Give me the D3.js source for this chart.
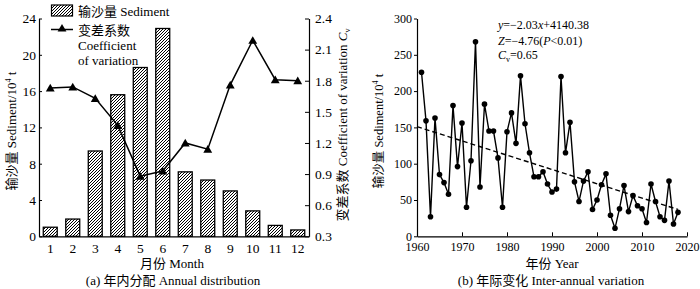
<!DOCTYPE html>
<html>
<head>
<meta charset="utf-8">
<script src="https://cdn.jsdelivr.net/npm/d3@7"></script>
<style>
  body { margin: 0; background: #fff; }
  svg text { font-family: "Liberation Serif", "Noto Sans CJK SC", serif; fill: #000; }
  .domain { stroke: #000; stroke-width: 1.2; }
  .tick line { stroke: #000; }
</style>
</head>
<body>
<svg id="chart" width="700" height="289"></svg>
<script>
// (a) monthly sediment and coefficient of variation
var months = [1, 2, 3, 4, 5, 6, 7, 8, 9, 10, 11, 12];
var sediment = [1.0, 1.9, 9.4, 15.6, 18.6, 22.9, 7.1, 6.2, 5.0, 2.8, 1.2, 0.7];
var cv = [1.73, 1.74, 1.63, 1.37, 0.88, 0.93, 1.20, 1.14, 1.76, 2.19, 1.81, 1.80];
var leftTicks = [0, 4, 8, 12, 16, 20, 24];
var cvTicks = [0.3, 0.6, 0.9, 1.2, 1.5, 1.8, 2.1, 2.4];

// (b) yearly sediment 1961-2018
var years = d3.range(1961, 2019);
var yearly = [226, 159, 27, 163, 85, 74, 58, 180, 96, 156,
              40, 104, 268, 68, 182, 145, 145, 108, 40, 144,
              170, 128, 221, 155, 115, 82, 82, 89, 72, 61,
              65, 220, 115, 157, 75, 48, 76, 89, 37, 50,
              71, 86, 29, 11, 38, 70, 34, 56, 42, 38,
              19, 72, 48, 27, 22, 76, 17, 33];
var trendYears = [1960, 2018];
var trendValues = [151, 37];
var yearTicks = [1960, 1970, 1980, 1990, 2000, 2010, 2020];
var rightTicks = [0, 50, 100, 150, 200, 250, 300];

var svg = d3.select("#chart");

// hatch pattern for the bars
var defs = svg.append("defs");
defs.append("pattern")
    .attr("id", "hatch")
    .attr("patternUnits", "userSpaceOnUse")
    .attr("width", 3).attr("height", 3)
    .append("path")
    .attr("d", "M-1,1 L1,-1 M0,3 L3,0 M2,4 L4,2")
    .attr("stroke", "#000")
    .attr("stroke-width", 1);

// ---------- panel (a) ----------
var plotTop = 18.5, plotBottom = 236.3;
var x = d3.scaleBand().domain(months).range([39, 309]).paddingInner(0.38).paddingOuter(0.19);
var yL = d3.scaleLinear().domain([0, 24]).range([plotBottom, plotTop]);
var yR = d3.scaleLinear().domain([0.3, 2.4]).range([plotBottom, plotTop]);

var a = svg.append("g");

a.selectAll(".bar")
    .data(sediment)
    .enter().append("rect")
    .attr("class", "bar")
    .attr("x", (d, i) => x(months[i]))
    .attr("y", d => yL(d))
    .attr("width", x.bandwidth())
    .attr("height", d => plotBottom - yL(d))
    .attr("fill", "url(#hatch)")
    .attr("stroke", "#000")
    .attr("stroke-width", 1.3);

var cvLine = d3.line().x((d, i) => x(months[i]) + x.bandwidth() / 2).y(d => yR(d));
a.append("path")
    .datum(cv)
    .attr("d", cvLine)
    .attr("fill", "none")
    .attr("stroke", "#000")
    .attr("stroke-width", 1.5);

a.selectAll(".tri")
    .data(cv)
    .enter().append("path")
    .attr("d", d3.symbol(d3.symbolTriangle, 34))
    .attr("transform", (d, i) => "translate(" + (x(months[i]) + x.bandwidth() / 2) + "," + (yR(d) + 1) + ")")
    .attr("fill", "#000");

a.append("g")
    .attr("transform", "translate(0," + plotBottom + ")")
    .call(d3.axisBottom(x).tickSize(0).tickPadding(7))
    .call(g => g.selectAll("text").style("font-size", "13.5px"));

a.append("g")
    .attr("transform", "translate(39,0)")
    .call(d3.axisLeft(yL).tickValues(leftTicks).tickSizeInner(-3).tickSizeOuter(0).tickPadding(3))
    .call(g => g.selectAll("text").style("font-size", "13.5px"));

a.append("g")
    .attr("transform", "translate(309,0)")
    .call(d3.axisRight(yR).tickValues(cvTicks).tickFormat(d3.format(".1f")).tickSizeInner(-4).tickSizeOuter(0).tickPadding(6))
    .call(g => g.selectAll("text").style("font-size", "13.5px"));

// axis titles (a)
var t1 = a.append("text")
    .attr("transform", "translate(16,131) rotate(-90)")
    .attr("text-anchor", "middle")
    .style("font-size", "13px");
t1.append("tspan").text("输沙量 Sediment/10");
t1.append("tspan").attr("dy", -5).style("font-size", "8px").text("4");
t1.append("tspan").attr("dy", 5).text(" t");

var t2 = a.append("text")
    .attr("transform", "translate(347,125) rotate(-90)")
    .attr("text-anchor", "middle")
    .style("font-size", "13px");
t2.append("tspan").text("变差系数 Coefficient of variation ");
t2.append("tspan").style("font-style", "italic").text("C");
t2.append("tspan").attr("dy", 3).style("font-size", "8px").text("v");

a.append("text").attr("x", 172).attr("y", 268).attr("text-anchor", "middle")
    .style("font-size", "13px").text("月份 Month");
a.append("text").attr("x", 173).attr("y", 285).attr("text-anchor", "middle")
    .style("font-size", "13px").text("(a) 年内分配 Annual distribution");

// legend (a)
a.append("rect").attr("x", 51.5).attr("y", 5).attr("width", 21).attr("height", 11)
    .attr("fill", "url(#hatch)").attr("stroke", "#000").attr("stroke-width", 1.2);
a.append("text").attr("x", 78).attr("y", 16).style("font-size", "13px").text("输沙量 Sediment");
a.append("line").attr("x1", 51).attr("x2", 73).attr("y1", 29.5).attr("y2", 29.5)
    .attr("stroke", "#000").attr("stroke-width", 1.5);
a.append("path").attr("d", d3.symbol(d3.symbolTriangle, 34))
    .attr("transform", "translate(62,29)").attr("fill", "#000");
a.append("text").attr("x", 78).attr("y", 35).style("font-size", "13px").text("变差系数");
a.append("text").attr("x", 78).attr("y", 49.5).style("font-size", "13px").text("Coefficient");
a.append("text").attr("x", 78).attr("y", 64.5).style("font-size", "13px").text("of variation");

// ---------- panel (b) ----------
var xb = d3.scaleLinear().domain([1960, 2020]).range([417, 687]);
var yb = d3.scaleLinear().domain([0, 300]).range([plotBottom, plotTop]);

var b = svg.append("g");

b.append("g")
    .attr("transform", "translate(0," + plotBottom + ")")
    .call(d3.axisBottom(xb).tickValues(yearTicks).tickFormat(d3.format("d")).tickSizeInner(-4).tickSizeOuter(0).tickPadding(6))
    .call(g => g.selectAll("text").style("font-size", "12px"));

b.append("g")
    .attr("transform", "translate(417,0)")
    .call(d3.axisLeft(yb).tickValues(rightTicks).tickSizeInner(3).tickSizeOuter(0).tickPadding(2))
    .call(g => g.selectAll("text").style("font-size", "12px"));

b.append("path")
    .datum(trendYears)
    .attr("d", d3.line().x(d => xb(d)).y((d, i) => yb(trendValues[i])))
    .attr("fill", "none")
    .attr("stroke", "#000")
    .attr("stroke-width", 1.4)
    .attr("stroke-dasharray", "5,3");

b.append("path")
    .datum(yearly)
    .attr("d", d3.line().x((d, i) => xb(years[i])).y(d => yb(d)))
    .attr("fill", "none")
    .attr("stroke", "#000")
    .attr("stroke-width", 1.4);

b.selectAll(".dot")
    .data(yearly)
    .enter().append("circle")
    .attr("cx", (d, i) => xb(years[i]))
    .attr("cy", d => yb(d))
    .attr("r", 2.8)
    .attr("fill", "#000");

var t3 = b.append("text")
    .attr("transform", "translate(383,131) rotate(-90)")
    .attr("text-anchor", "middle")
    .style("font-size", "12.5px");
t3.append("tspan").text("输沙量 Sediment/10");
t3.append("tspan").attr("dy", -5).style("font-size", "8px").text("4");
t3.append("tspan").attr("dy", 5).text(" t");

b.append("text").attr("x", 552).attr("y", 268).attr("text-anchor", "middle")
    .style("font-size", "13px").text("年份 Year");
b.append("text").attr("x", 551).attr("y", 285).attr("text-anchor", "middle")
    .style("font-size", "13px").text("(b) 年际变化 Inter-annual variation");

// regression annotation
var r1 = b.append("text").attr("x", 498).attr("y", 29).style("font-size", "12px");
r1.append("tspan").style("font-style", "italic").text("y");
r1.append("tspan").text("=−2.03");
r1.append("tspan").style("font-style", "italic").text("x");
r1.append("tspan").text("+4140.38");
var r2 = b.append("text").attr("x", 498).attr("y", 45).style("font-size", "12px");
r2.append("tspan").style("font-style", "italic").text("Z");
r2.append("tspan").text("=−4.76(");
r2.append("tspan").style("font-style", "italic").text("P");
r2.append("tspan").text("<0.01)");
var r3 = b.append("text").attr("x", 498).attr("y", 59).style("font-size", "12px");
r3.append("tspan").style("font-style", "italic").text("C");
r3.append("tspan").attr("dy", 3).style("font-size", "8px").text("v");
r3.append("tspan").attr("dy", -3).text("=0.65");
</script>
</body>
</html>
